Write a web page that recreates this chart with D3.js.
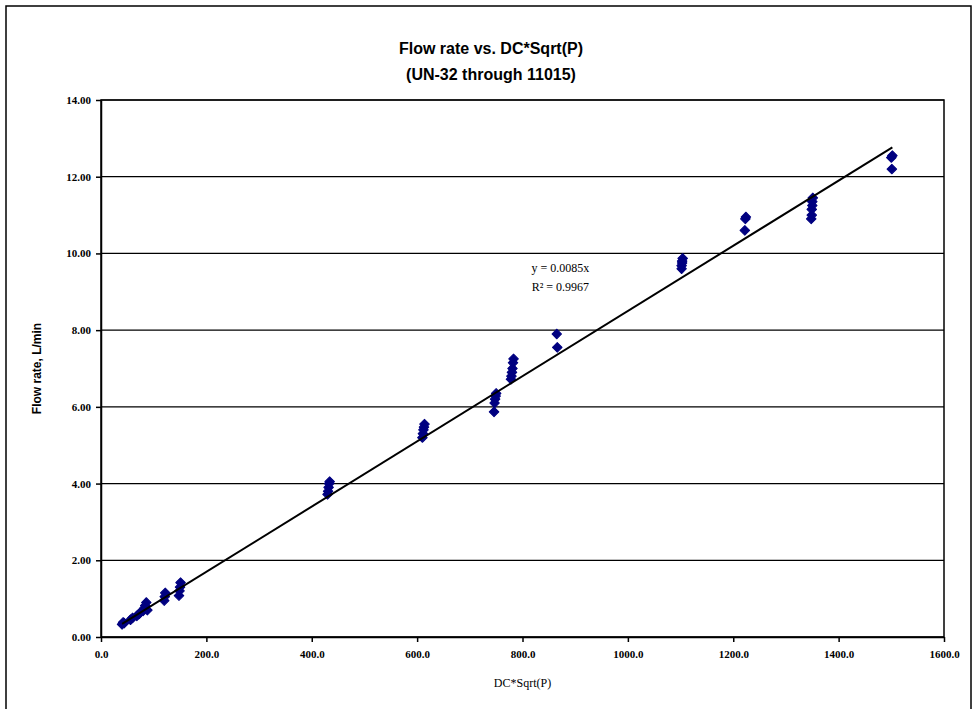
<!DOCTYPE html>
<html><head><meta charset="utf-8">
<script src="https://cdn.jsdelivr.net/npm/d3@7"></script>
<style>body{margin:0;background:#fff}svg{display:block}</style>
</head><body>
<script>
const xTicks = [0,200,400,600,800,1000,1200,1400,1600];
const xTickLabels = ["0.0","200.0","400.0","600.0","800.0","1000.0","1200.0","1400.0","1600.0"];
const yTicks = [0,2,4,6,8,10,12,14];
const yTickLabels = ["0.00","2.00","4.00","6.00","8.00","10.00","12.00","14.00"];
const xValues = [40,42,44, 56,60, 68,72,74, 80,82,84,86,88, 120,121,122, 148,149,150,151,
  430,431,432,433,434, 610,611,612,613,614, 746,747,748,749,750, 778,779,780,781,782,783,
  865,866, 1102,1102,1103,1103,1104, 1222,1223,1224, 1348,1349,1349,1350,1350,1351, 1500,1501,1502];
const yValues = [0.33,0.38,0.36, 0.45,0.5, 0.55,0.6,0.63, 0.68,0.75,0.82,0.9,0.7, 0.95,1.05,1.15, 1.08,1.2,1.3,1.42,
  3.72,3.8,3.9,4.0,4.05, 5.2,5.3,5.4,5.47,5.55, 5.87,6.1,6.2,6.28,6.35, 6.72,6.8,6.9,7.0,7.15,7.25,
  7.9,7.55, 9.6,9.68,9.75,9.8,9.87, 10.6,10.9,10.95, 10.9,11.0,11.15,11.25,11.35,11.45, 12.5,12.2,12.55];
const slope = 0.0085;
const titleLines = ["Flow rate vs. DC*Sqrt(P)","(UN-32 through 11015)"];
const eqLines = ["y = 0.0085x","R² = 0.9967"];

const W=976,H=709;
const svg=d3.select("body").append("svg").attr("width",W).attr("height",H);
svg.append("rect").attr("x",6).attr("y",6).attr("width",965).attr("height",712)
  .attr("fill","#fff").attr("stroke","#000").attr("stroke-width",1.5);

const L=101,R=944,T=100,B=637;
const x=d3.scaleLinear().domain([0,1600]).range([L,R]);
const y=d3.scaleLinear().domain([0,14]).range([B,T]);

svg.append("g").selectAll("line").data(yTicks).join("line")
  .attr("x1",L).attr("x2",R).attr("y1",d=>y(d)).attr("y2",d=>y(d))
  .attr("stroke","#000").attr("stroke-width",1.2);
svg.append("rect").attr("x",L).attr("y",T).attr("width",R-L).attr("height",B-T)
  .attr("fill","none").attr("stroke","#000").attr("stroke-width",1.5);

const tickFont="'Liberation Serif', serif";
const xAxis=d3.axisBottom(x).tickValues(xTicks).tickSize(5).tickSizeOuter(0)
  .tickFormat((d,i)=>xTickLabels[i]);
const gx=svg.append("g").attr("transform",`translate(0,${B})`).call(xAxis);
gx.select(".domain").attr("stroke-width",1.5);
gx.selectAll("line").attr("stroke-width",1.5);
gx.selectAll("text").attr("font-family",tickFont).attr("font-weight","bold").attr("font-size",11).attr("dy","1.15em").attr("fill","#000");

const yAxis=d3.axisLeft(y).tickValues(yTicks).tickSize(5).tickSizeOuter(0)
  .tickFormat((d,i)=>yTickLabels[i]);
const gy=svg.append("g").attr("transform",`translate(${L},0)`).call(yAxis);
gy.select(".domain").attr("stroke-width",1.5);
gy.selectAll("line").attr("stroke-width",1.5);
gy.selectAll("text").attr("font-family",tickFont).attr("font-weight","bold").attr("font-size",11).attr("dx","-2").attr("fill","#000");

const pts=xValues.map((v,i)=>[v,yValues[i]]);
svg.append("g").selectAll("path").data(pts).join("path")
  .attr("d",d3.symbol().type(d3.symbolSquare).size(46))
  .attr("transform",d=>`translate(${x(d[0])},${y(d[1])}) rotate(45)`)
  .attr("fill","#000080").attr("stroke","#000080").attr("stroke-width",1).attr("stroke-linejoin","round");

const xmin=d3.min(xValues),xmax=d3.max(xValues);
svg.append("line").attr("x1",x(xmin)).attr("y1",y(slope*xmin))
  .attr("x2",x(xmax)).attr("y2",y(slope*xmax))
  .attr("stroke","#000").attr("stroke-width",2);

svg.append("g").selectAll("text").data(eqLines).join("text")
  .attr("x",x(872)).attr("y",(d,i)=>y(9.5)-1+i*19)
  .attr("text-anchor","middle").attr("font-family",tickFont).attr("font-size",12).attr("fill","#000")
  .text(d=>d);

svg.append("g").selectAll("text").data(titleLines).join("text")
  .attr("x",491).attr("y",(d,i)=>54+i*26).attr("text-anchor","middle")
  .attr("font-family","'Liberation Sans', Arial, sans-serif").attr("font-weight","bold")
  .attr("font-size",16).attr("fill","#000").text(d=>d);

svg.append("text").attr("x",(L+R)/2).attr("y",687).attr("text-anchor","middle")
  .attr("font-family",tickFont).attr("font-size",12).attr("fill","#000").text("DC*Sqrt(P)");

svg.append("text").attr("transform",`translate(41,${(T+B)/2}) rotate(-90)`).attr("text-anchor","middle")
  .attr("font-family","'Liberation Sans', Arial, sans-serif").attr("font-weight","bold").attr("font-size",12)
  .attr("fill","#000").text("Flow rate, L/min");
</script>
</body></html>
